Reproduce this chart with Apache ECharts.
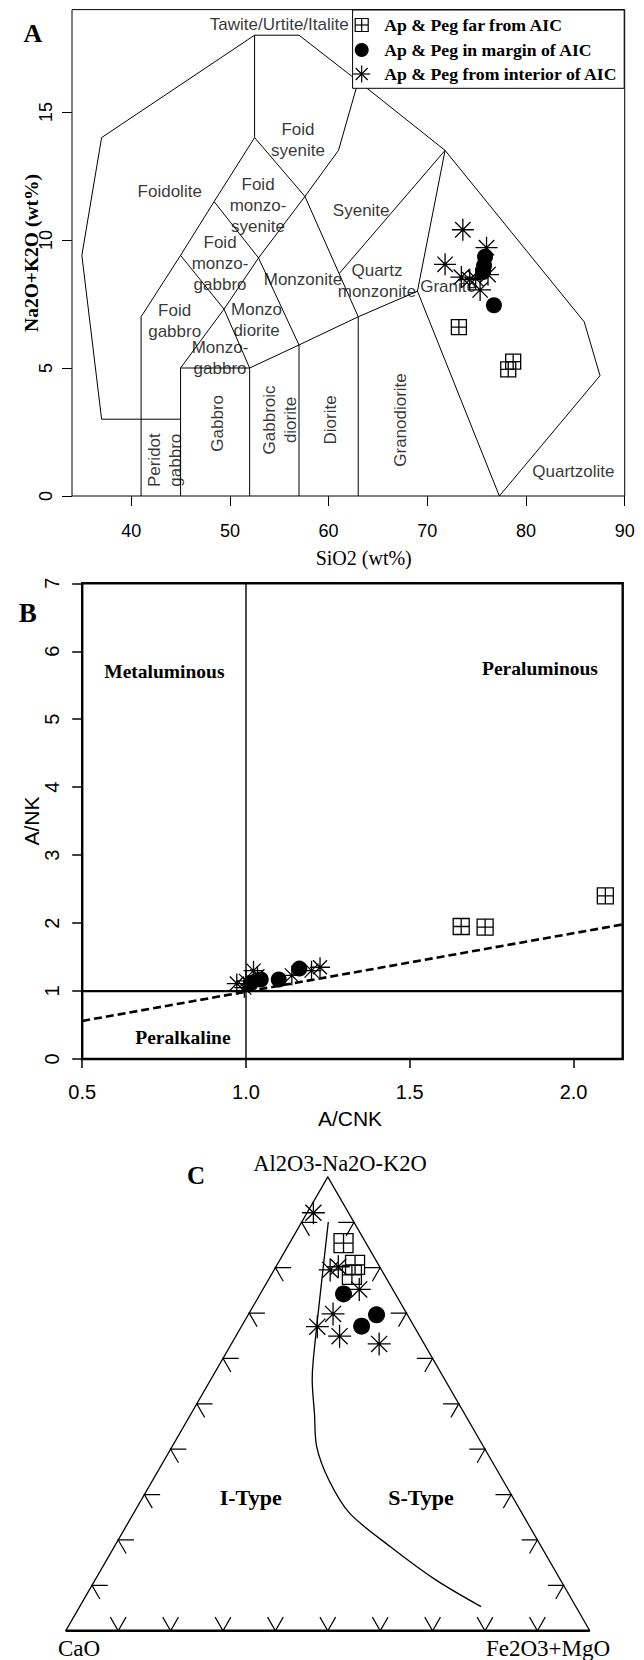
<!DOCTYPE html>
<html><head><meta charset="utf-8">
<script src="https://cdn.jsdelivr.net/npm/echarts@6/dist/echarts.min.js"></script>
<style>html,body{margin:0;padding:0;background:#fff}#c{width:644px;height:1660px}</style>
</head><body><div id="c"></div>
<script>
// ===== Panel A: TAS diagram (SiO2 vs Na2O+K2O) =====
const tasTicksX = [40, 50, 60, 70, 80, 90];
const tasTicksY = [0, 5, 10, 15];
const tasLines = [
  [[37,3],[35,9.4],[37,14],[52.5,18],[57,18],[63,16.2],[71.8,13.5],[85.9,6.8],[87.5,4.7],[77.3,0]],
  [[37,3],[45,3]],
  [[41,0],[41,7],[45,9.4],[48.4,11.5],[52.5,14],[52.5,18]],
  [[45,0],[45,5],[52,5]],
  [[52,0],[52,5],[57,5.9],[63,7],[69,8],[77.3,0]],
  [[57,0],[57,5.9]],
  [[63,0],[63,7]],
  [[45,9.4],[49.4,7.3],[52,5]],
  [[45,5],[49.4,7.3],[52.9,9.3],[57.6,11.7],[61,13.5],[63,16.2]],
  [[48.4,11.5],[52.9,9.3],[57,5.9]],
  [[52.5,14],[57.6,11.7],[63,7]],
  [[71.8,13.5],[61.1,8.7]],
  [[71.8,13.5],[69,8]]
];
const tasFieldNames = ['Tawite/Urtite/Italite','Foid\nsyenite','Foidolite','Foid\nmonzo-\nsyenite','Syenite',
  'Foid\nmonzo-\ngabbro','Monzonite','Quartz\nmonzonite','Granite','Foid\ngabbro','Monzo\ndiorite',
  'Monzo-\ngabbro','Peridot\ngabbro','Gabbro','Gabbroic\ndiorite','Diorite','Granodiorite','Quartzolite'];
const tasFieldX = [55.0,56.9,43.9,52.85,63.3,49.0,57.4,64.9,72.1,44.4,52.7,49.0,43.4,48.75,55.1,60.2,67.3,84.8];
const tasFieldY = [18.4,13.9,11.9,11.33,11.15,9.1,8.44,8.4,8.18,6.85,6.86,5.4,1.4,2.84,2.97,2.97,2.97,0.95];
const tasFieldVertical = [0,0,0,0,0,0,0,0,0,0,0,0,1,1,1,1,1,0];
const tasFar = [[73.2,6.6],[78.7,5.25],[78.2,4.95]];
const tasMargin = [[75.85,9.35],[75.75,9.0],[75.65,8.75],[76.75,7.45]];
const tasInterior = [[73.6,10.4],[76.0,9.7],[71.8,9.05],[73.45,8.55],[74.3,8.45],[74.9,8.5],[76.15,8.65],[75.35,8.05]];

// ===== Panel B: A/CNK vs A/NK =====
const shandTicksX = [0.5, 1.0, 1.5, 2.0];
const shandFar = [[1.657,1.95],[1.73,1.94],[2.097,2.40]];
const shandMargin = [[1.015,1.12],[1.045,1.17],[1.10,1.17],[1.163,1.33]];
const shandInterior = [[0.972,1.11],[0.995,1.05],[1.0,1.15],[1.023,1.30],[1.035,1.22],[1.14,1.23],[1.226,1.35],[1.20,1.30]];
const shandVertical = [[1,0],[1,7]];
const shandHorizontal = [[0.5,1],[2.15,1]];
const shandDashed = [[0.5,0.56],[2.15,1.98]];

// ===== Panel C: ternary [A = Al2O3-Na2O-K2O, C = CaO, F = Fe2O3+MgO] (%) =====
const ternFar = [[85.4,4.3,10.3],[80.6,4.5,14.9],[78.4,6.2,15.4]];
const ternMargin = [[74.2,9.9,15.9],[69.6,5.9,24.5],[67.1,10.0,22.9]];
const ternInterior = [[92.1,6.7,1.2],[79.5,9.8,10.7],[80.2,7.9,11.9],[75.2,6.4,18.4],[69.8,14.1,16.1],[67.0,18.5,14.5],[64.9,15.3,19.8],[63.2,8.6,28.2]];
const ternCurve = [[90.1,4.85,5.05],[75.1,13.8,11.1],[59.65,22.95,17.4],[55.25,25.35,19.4],[47.9,28.6,23.5],[40.55,31.85,27.6],[33.2,33.2,33.6],[25.9,32.9,41.2],[18.5,28.8,52.7],[11.2,23.8,65.0],[5.3,18.1,76.6]];
const ternTicks = [0.1,0.2,0.3,0.4,0.5,0.6,0.7,0.8,0.9];
const ternTickLen = 0.03;

// ---------------------------------------------------------------
const SANS = '"Liberation Sans", Arial, sans-serif';
const SERIF = '"Liberation Serif", "Times New Roman", serif';
const BLACK = '#000';
const SQ = 'path://M0,0H10V10H0Z M5,0V10 M0,5H10';
const AST = 'path://M5,0V10 M0,5H10 M1.5,1.5L8.5,8.5 M8.5,1.5L1.5,8.5';

function tern(p) { const s = p[0] + p[1] + p[2]; const a = p[0] / s, f = p[2] / s; return [f + a / 2, a]; }

function polyLines(gi, polys, width, z) {
  return { type: 'lines', coordinateSystem: 'cartesian2d', xAxisIndex: gi, yAxisIndex: gi, polyline: true,
    silent: true, z: z || 2, lineStyle: { color: BLACK, width: width, opacity: 1, curveness: 0 },
    data: polys.map(p => ({ coords: p })) };
}
function pts(gi, data, kind, size) {
  const base = { type: 'scatter', xAxisIndex: gi, yAxisIndex: gi, data: data, symbolSize: size, silent: true, z: 5 };
  if (kind === 'sq') return Object.assign(base, { symbol: SQ, itemStyle: { color: 'rgba(0,0,0,0)', borderColor: BLACK, borderWidth: 1.3, opacity: 1 } });
  if (kind === 'ci') return Object.assign(base, { symbol: 'circle', itemStyle: { color: BLACK, opacity: 1 } });
  return Object.assign(base, { symbol: AST, itemStyle: { color: 'rgba(0,0,0,0)', borderColor: BLACK, borderWidth: 1.3, opacity: 1 } });
}

// ternary frame and ticks
const ternFrame = [[[0,0,100],[100,0,0],[0,100,0]].map(tern)];
const ternBase = [[[0,100,0],[0,0,100]].map(tern)];
const ternTickPolys = [];
ternTicks.forEach(t => {
  const L = ternTickLen;
  ternTickPolys.push([[t, 1 - t - L, L], [t, 1 - t, 0], [t - L, 1 - t, L]].map(tern));   // left edge
  ternTickPolys.push([[t, L, 1 - t - L], [t, 0, 1 - t], [t - L, L, 1 - t]].map(tern));   // right edge
  ternTickPolys.push([[L, 1 - t - L, t], [0, 1 - t, t], [L, 1 - t, t - L]].map(tern));   // base
});

const axisCommon = { axisLine: { show: false }, splitLine: { show: false } };

const option = {
  animation: false,
  backgroundColor: '#fff',
  grid: [
    { left: 72, top: 9.6, width: 552.7, height: 486.4, show: true, borderColor: BLACK, borderWidth: 1, backgroundColor: 'transparent' },
    { left: 82.2, top: 583.3, width: 540.5, height: 475.7, show: true, borderColor: BLACK, borderWidth: 2.4, backgroundColor: 'transparent' },
    { left: 65.8, top: 1176.9, width: 524, height: 453.8, show: false }
  ],
  xAxis: [
    Object.assign({ gridIndex: 0, type: 'value', min: 34, max: 90,
      axisTick: { show: true, customValues: tasTicksX, length: 10, lineStyle: { color: BLACK, width: 1 } },
      axisLabel: { customValues: tasTicksX, fontSize: 18, color: BLACK, fontFamily: SANS, margin: 26 } }, axisCommon),
    Object.assign({ gridIndex: 1, type: 'value', min: 0.5, max: 2.15,
      axisTick: { show: true, customValues: shandTicksX, length: 9, lineStyle: { color: BLACK, width: 1.5 } },
      axisLabel: { customValues: shandTicksX, formatter: v => v.toFixed(1), fontSize: 20, color: BLACK, fontFamily: SANS, margin: 23 } }, axisCommon),
    { gridIndex: 2, type: 'value', min: 0, max: 1, show: false }
  ],
  yAxis: [
    Object.assign({ gridIndex: 0, type: 'value', min: 0, max: 19,
      axisTick: { show: true, customValues: tasTicksY, length: 10, lineStyle: { color: BLACK, width: 1 } },
      axisLabel: { customValues: tasTicksY, rotate: 90, fontSize: 18, color: BLACK, fontFamily: SANS, margin: 17 } }, axisCommon),
    Object.assign({ gridIndex: 1, type: 'value', min: 0, max: 7, interval: 1,
      axisTick: { show: true, length: 10, lineStyle: { color: BLACK, width: 1.5 } },
      axisLabel: { rotate: 90, fontSize: 20, color: BLACK, fontFamily: SANS, margin: 20 } }, axisCommon),
    { gridIndex: 2, type: 'value', min: 0, max: 1, show: false }
  ],
  series: [
    // Panel A
    polyLines(0, tasLines, 1),
    { type: 'scatter', xAxisIndex: 0, yAxisIndex: 0, silent: true, z: 3, symbolSize: 1,
      itemStyle: { color: 'rgba(0,0,0,0)' },
      label: { show: true, position: 'inside', color: BLACK, fontFamily: SANS, fontSize: 17, lineHeight: 21 },
      data: tasFieldNames.map((n, i) => ({ value: [tasFieldX[i], tasFieldY[i]],
        label: { formatter: n, rotate: tasFieldVertical[i] ? 90 : 0 } })) },
    pts(0, tasFar, 'sq', 15),
    pts(0, tasMargin, 'ci', 16),
    pts(0, tasInterior, 'as', 22),
    // Panel B
    polyLines(1, [shandVertical], 1.4),
    polyLines(1, [shandHorizontal], 2.2),
    { type: 'line', xAxisIndex: 1, yAxisIndex: 1, data: shandDashed, symbol: 'none', silent: true, z: 2,
      lineStyle: { color: BLACK, width: 2.6, type: [8, 4] } },
    pts(1, shandFar, 'sq', 16),
    pts(1, shandMargin, 'ci', 16),
    pts(1, shandInterior, 'as', 20),
    // Panel C
    polyLines(2, ternFrame.map(p => p.concat([p[0]])), 1.3),
    polyLines(2, ternBase, 2.4),
    polyLines(2, ternTickPolys, 1.2),
    { type: 'line', xAxisIndex: 2, yAxisIndex: 2, data: ternCurve.map(tern), symbol: 'none', smooth: 0.3, silent: true, z: 2,
      lineStyle: { color: BLACK, width: 1.3 } },
    pts(2, ternFar.map(tern), 'sq', 19),
    pts(2, ternMargin.map(tern), 'ci', 17),
    pts(2, ternInterior.map(tern), 'as', 23)
  ],
  graphic: [
    // Panel A annotations
    { type: 'text', x: 33, y: 33.3, style: { text: 'A', font: 'bold 26px ' + SERIF, fill: BLACK, align: 'center', verticalAlign: 'middle' } },
    { type: 'text', x: 363.7, y: 558.3, style: { text: 'SiO2 (wt%)', font: '20px ' + SERIF, fill: BLACK, align: 'center', verticalAlign: 'middle' } },
    { type: 'text', x: 31, y: 253, rotation: Math.PI / 2, style: { text: 'Na2O+K2O (wt%)', font: 'bold 19.5px ' + SERIF, fill: BLACK, align: 'center', verticalAlign: 'middle' } },
    // legend
    { type: 'rect', shape: { x: 352.6, y: 10, width: 271.6, height: 78.3 }, style: { fill: '#fff', stroke: BLACK, lineWidth: 1 }, z: 10 },
    { type: 'rect', shape: { x: 355.2, y: 18.5, width: 13, height: 13 }, style: { fill: 'none', stroke: BLACK, lineWidth: 1.2 }, z: 11 },
    { type: 'line', shape: { x1: 361.7, y1: 18.5, x2: 361.7, y2: 31.5 }, style: { stroke: BLACK, lineWidth: 1.2 }, z: 11 },
    { type: 'line', shape: { x1: 355.2, y1: 25, x2: 368.2, y2: 25 }, style: { stroke: BLACK, lineWidth: 1.2 }, z: 11 },
    { type: 'circle', shape: { cx: 361.7, cy: 50, r: 7 }, style: { fill: BLACK }, z: 11 },
    { type: 'line', shape: { x1: 361.7, y1: 65.5, x2: 361.7, y2: 82.5 }, style: { stroke: BLACK, lineWidth: 1.2 }, z: 11 },
    { type: 'line', shape: { x1: 353.2, y1: 74, x2: 370.2, y2: 74 }, style: { stroke: BLACK, lineWidth: 1.2 }, z: 11 },
    { type: 'line', shape: { x1: 355.7, y1: 68, x2: 367.7, y2: 80 }, style: { stroke: BLACK, lineWidth: 1.2 }, z: 11 },
    { type: 'line', shape: { x1: 367.7, y1: 68, x2: 355.7, y2: 80 }, style: { stroke: BLACK, lineWidth: 1.2 }, z: 11 },
    { type: 'text', x: 384.3, y: 25, z: 11, style: { text: 'Ap & Peg far from AIC', font: 'bold 17.7px ' + SERIF, fill: BLACK, align: 'left', verticalAlign: 'middle' } },
    { type: 'text', x: 384.3, y: 50, z: 11, style: { text: 'Ap & Peg in margin of AIC', font: 'bold 17.7px ' + SERIF, fill: BLACK, align: 'left', verticalAlign: 'middle' } },
    { type: 'text', x: 384.3, y: 74, z: 11, style: { text: 'Ap & Peg from interior of AIC', font: 'bold 17.7px ' + SERIF, fill: BLACK, align: 'left', verticalAlign: 'middle' } },
    // Panel B annotations
    { type: 'text', x: 27.7, y: 612.5, style: { text: 'B', font: 'bold 27px ' + SERIF, fill: BLACK, align: 'center', verticalAlign: 'middle' } },
    { type: 'text', x: 164.4, y: 671.7, style: { text: 'Metaluminous', font: 'bold 19.5px ' + SERIF, fill: BLACK, align: 'center', verticalAlign: 'middle' } },
    { type: 'text', x: 540, y: 668.3, style: { text: 'Peraluminous', font: 'bold 19.5px ' + SERIF, fill: BLACK, align: 'center', verticalAlign: 'middle' } },
    { type: 'text', x: 182.9, y: 1037.3, style: { text: 'Peralkaline', font: 'bold 19.5px ' + SERIF, fill: BLACK, align: 'center', verticalAlign: 'middle' } },
    { type: 'text', x: 31, y: 821, rotation: Math.PI / 2, style: { text: 'A/NK', font: '21px ' + SANS, fill: BLACK, align: 'center', verticalAlign: 'middle' } },
    { type: 'text', x: 350, y: 1118.3, style: { text: 'A/CNK', font: '21px ' + SANS, fill: BLACK, align: 'center', verticalAlign: 'middle' } },
    // Panel C annotations
    { type: 'text', x: 196, y: 1175, style: { text: 'C', font: 'bold 25px ' + SERIF, fill: BLACK, align: 'center', verticalAlign: 'middle' } },
    { type: 'text', x: 340, y: 1163.3, style: { text: 'Al2O3-Na2O-K2O', font: '22.5px ' + SERIF, fill: BLACK, align: 'center', verticalAlign: 'middle' } },
    { type: 'text', x: 79, y: 1648.3, style: { text: 'CaO', font: '23px ' + SERIF, fill: BLACK, align: 'center', verticalAlign: 'middle' } },
    { type: 'text', x: 548, y: 1648.3, style: { text: 'Fe2O3+MgO', font: '23px ' + SERIF, fill: BLACK, align: 'center', verticalAlign: 'middle' } },
    { type: 'text', x: 250.7, y: 1497.3, style: { text: 'I-Type', font: 'bold 22px ' + SERIF, fill: BLACK, align: 'center', verticalAlign: 'middle' } },
    { type: 'text', x: 421, y: 1497.3, style: { text: 'S-Type', font: 'bold 22px ' + SERIF, fill: BLACK, align: 'center', verticalAlign: 'middle' } }
  ]
};

const chart = echarts.init(document.getElementById('c'), null, { renderer: 'svg', width: 644, height: 1660 });
chart.setOption(option);
</script>
</body></html>
